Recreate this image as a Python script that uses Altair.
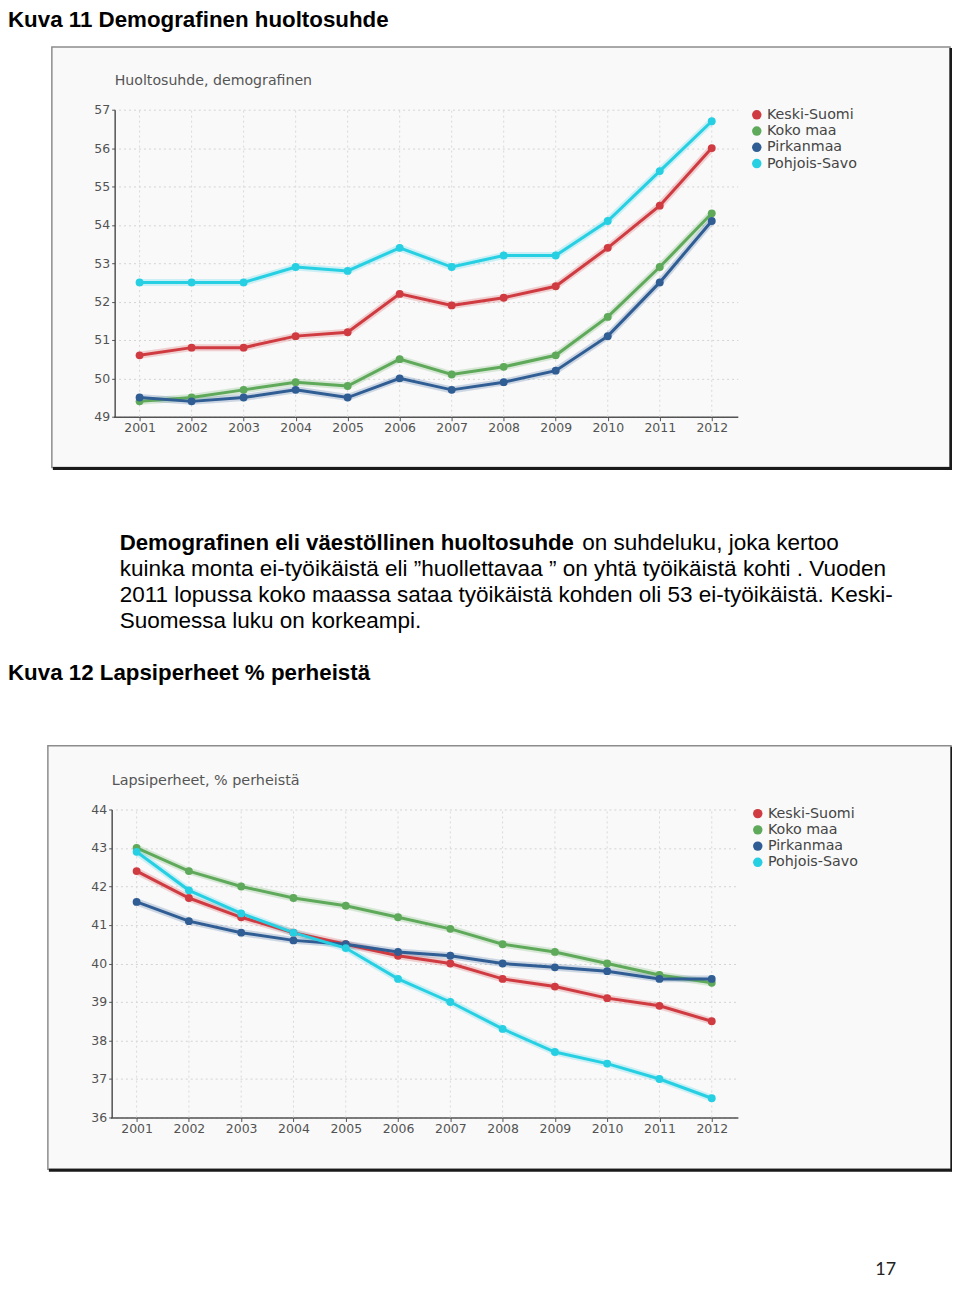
import altair as alt
import pandas as pd

# ---------------- data ----------------
years = list(range(2001, 2013))
series_names = ["Keski-Suomi", "Koko maa", "Pirkanmaa", "Pohjois-Savo"]
series_colors = ["#cf3b40", "#5fa95a", "#2f5d94", "#27cfe2"]

# Kuva 11: Huoltosuhde, demografinen
huolto_keski_suomi = [50.6, 50.8, 50.8, 51.1, 51.2, 52.2, 51.9, 52.1, 52.4, 53.4, 54.5, 56.0]
huolto_koko_maa = [49.4, 49.5, 49.7, 49.9, 49.8, 50.5, 50.1, 50.3, 50.6, 51.6, 52.9, 54.3]
huolto_pirkanmaa = [49.5, 49.4, 49.5, 49.7, 49.5, 50.0, 49.7, 49.9, 50.2, 51.1, 52.5, 54.1]
huolto_pohjois_savo = [52.5, 52.5, 52.5, 52.9, 52.8, 53.4, 52.9, 53.2, 53.2, 54.1, 55.4, 56.7]
huolto_ticks = [49, 50, 51, 52, 53, 54, 55, 56, 57]

# Kuva 12: Lapsiperheet, % perheistä
lapsi_keski_suomi = [42.4, 41.7, 41.2, 40.8, 40.5, 40.2, 40.0, 39.6, 39.4, 39.1, 38.9, 38.5]
lapsi_koko_maa = [43.0, 42.4, 42.0, 41.7, 41.5, 41.2, 40.9, 40.5, 40.3, 40.0, 39.7, 39.5]
lapsi_pirkanmaa = [41.6, 41.1, 40.8, 40.6, 40.5, 40.3, 40.2, 40.0, 39.9, 39.8, 39.6, 39.6]
lapsi_pohjois_savo = [42.9, 41.9, 41.3, 40.8, 40.4, 39.6, 39.0, 38.3, 37.7, 37.4, 37.0, 36.5]
lapsi_ticks = [36, 37, 38, 39, 40, 41, 42, 43, 44]

# texts
heading1 = "Kuva 11 Demografinen huoltosuhde"
title1 = "Huoltosuhde, demografinen"
para_bold = "Demografinen eli väestöllinen huoltosuhde"
para_rest1 = "on suhdeluku, joka kertoo"
para_lines = [
    "kuinka monta ei-työikäistä eli ”huollettavaa ” on yhtä työikäistä kohti . Vuoden",
    "2011 lopussa koko maassa sataa työikäistä kohden oli 53 ei-työikäistä.  Keski-",
    "Suomessa luku on korkeampi.",
]
heading2 = "Kuva 12 Lapsiperheet % perheistä"
title2 = "Lapsiperheet, % perheistä"
page_number = "17"

# ---------------- layout helpers ----------------
W, H = 947, 1270
OX, OY = 8, 8  # page margin: page coords -> chart coords

ONE = alt.Data(values=[{"k": 1}])
CHART_FONT = "DejaVu Sans"
DOC_FONT = "Liberation Sans"
GRID_COLOR = "#d9d9d9"


def txt(text, x, y, size, weight="normal", font=DOC_FONT, color="#000000", align="left"):
    return alt.Chart(alt.Data(values=[{"t": text}])).mark_text(
        align=align, baseline="alphabetic", fontSize=size, fontWeight=weight,
        font=font, color=color
    ).encode(x=alt.value(x - OX), y=alt.value(y - OY), text="t:N")


def frame(x0, y0, x1, y1):
    box = alt.Chart(ONE).mark_rect(
        fill="#000000", fillOpacity=0.022, stroke="#8c8c8c", strokeWidth=1.5
    ).encode(x=alt.value(x0 - OX), x2=alt.value(x1 - OX),
             y=alt.value(y0 - OY), y2=alt.value(y1 - OY))
    right = alt.Chart(ONE).mark_rule(color="#1a1a1a", strokeWidth=3).encode(
        x=alt.value(x1 - OX + 1), y=alt.value(y0 - OY + 1), y2=alt.value(y1 - OY + 2))
    bottom = alt.Chart(ONE).mark_rule(color="#1a1a1a", strokeWidth=3).encode(
        x=alt.value(x0 - OX + 1), x2=alt.value(x1 - OX + 2), y=alt.value(y1 - OY + 1))
    return [box, right, bottom]


def panel(series_values, ticks, x_left, x_right, y_top, y_bottom, axis_x, axis_y, leg_x, leg_y):
    rows = []
    for name, vals in zip(series_names, series_values):
        for yr, v in zip(years, vals):
            rows.append({"year": yr, "value": v, "series": name, "line_series": name})
    df = pd.DataFrame(rows)

    xs = alt.Scale(domain=[2000.5, 2012.5], range=[x_left - OX, x_right - OX], nice=False, zero=False)
    ys = alt.Scale(domain=[ticks[0], ticks[-1]], range=[y_bottom - OY, y_top - OY], nice=False, zero=False)
    x = alt.X("year:Q", scale=xs, axis=alt.Axis(
        values=years, format="d", orient="bottom", offset=(axis_y - OY) - H, title=None,
        grid=False, labelPadding=1, tickSize=4))
    y = alt.Y("value:Q", scale=ys, axis=alt.Axis(
        values=ticks, format="d", orient="left", offset=-(axis_x - OX), title=None,
        grid=True, labelPadding=2, tickSize=3))
    # line colours: data-driven domain (alphabetical = series order), no legend
    stroke = alt.Stroke("line_series:N", scale=alt.Scale(range=series_colors), legend=None)

    vgrid = alt.Chart(pd.DataFrame({"year": years})).mark_rule(
        color=GRID_COLOR, strokeDash=[2, 3], strokeWidth=1
    ).encode(x=x, y=alt.datum(ticks[0]), y2=alt.datum(ticks[-1]))
    halo = alt.Chart(df).mark_line(strokeWidth=7, opacity=0.22).encode(
        x=x, y=y, stroke=stroke)
    line = alt.Chart(df).mark_line(strokeWidth=3).encode(
        x=x, y=y, stroke=stroke)
    pts = alt.Chart(df).mark_circle(size=62, opacity=1).encode(
        x=x, y=y, color=alt.Color(
            "series:N", scale=alt.Scale(domain=series_names, range=series_colors),
            legend=alt.Legend(
                orient="none", legendX=leg_x - OX, legendY=leg_y - OY, title=None,
                symbolType="circle", symbolSize=90, symbolStrokeWidth=0, symbolOpacity=1,
                labelFont=CHART_FONT, labelFontSize=14.3, labelColor="#454545",
                labelOffset=3, rowPadding=1.3, padding=0)))
    return alt.layer(vgrid, halo, line, pts)


# ---------------- build ----------------
deco = []
deco += frame(52, 45, 953, 467)
deco += frame(48, 746, 954, 1171)
deco += [
    txt(heading1, 8, 25, 22.4, weight="bold"),
    txt(title1, 115, 83, 14.2, font=CHART_FONT, color="#555555"),
    txt(para_bold, 120, 550, 22.3, weight="bold"),
    txt(para_rest1, 584, 550, 22.6),
    txt(para_lines[0], 120, 576, 22.6),
    txt(para_lines[1], 120, 602, 22.6),
    txt(para_lines[2], 120, 628, 22.6),
    txt(heading2, 8, 680, 22.4, weight="bold"),
    txt(title2, 112, 785, 14.4, font=CHART_FONT, color="#555555"),
    txt(page_number, 878, 1277, 18, font="Lato", color="#222222"),
]

p1 = panel([huolto_keski_suomi, huolto_koko_maa, huolto_pirkanmaa, huolto_pohjois_savo],
           huolto_ticks, 113.9, 740.1, 108, 416, 115, 416, 752, 106)
p2 = panel([lapsi_keski_suomi, lapsi_koko_maa, lapsi_pirkanmaa, lapsi_pohjois_savo],
           lapsi_ticks, 110.8, 740.2, 810, 1119, 112, 1119, 753, 807)

chart = alt.layer(*deco, p1, p2).resolve_scale(
    x="independent", y="independent", color="independent", stroke="independent"
).properties(
    width=W, height=H, padding=0, autosize=alt.AutoSizeParams(type="none"),
    background="#ffffff"
).configure_view(stroke=None).configure_axis(
    labelFont=CHART_FONT, labelFontSize=12.5, labelColor="#555555",
    domainColor="#555555", domainWidth=1.5, tickColor="#555555", tickWidth=1,
    gridColor=GRID_COLOR, gridDash=[2, 3], gridWidth=1
)

chart.save("out.html", embed_options={"renderer": "svg", "actions": False})
